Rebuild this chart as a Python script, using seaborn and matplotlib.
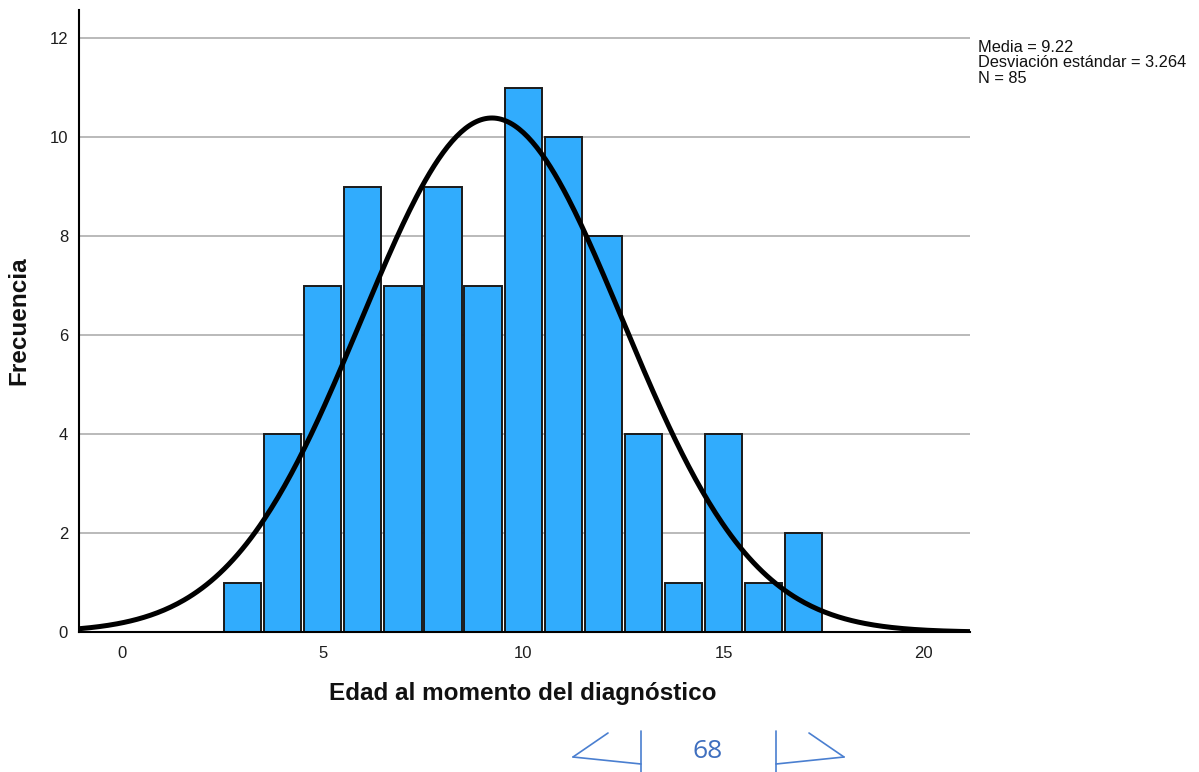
import matplotlib.pyplot as plt
from matplotlib.lines import Line2D
import seaborn as sns
import numpy as np
import pandas as pd

# data
edades = [3, 4, 5, 6, 7, 8, 9, 10, 11, 12, 13, 14, 15, 16, 17]
frecuencias = [1, 4, 7, 9, 7, 9, 7, 11, 10, 8, 4, 1, 4, 1, 2]
media = 9.22
desv = 3.264
n_total = 85

sns.set_theme(style="white")
plt.rcParams['font.family'] = ['Liberation Sans', 'DejaVu Sans']

df = pd.DataFrame({"edad": edades, "frec": frecuencias})

fig = plt.figure(figsize=(11.99, 7.72), dpi=100)
ax = fig.add_axes([0.066, 0.181, 0.743, 0.806])

xmin, xmax = -1.08, 21.15
ax.set_xlim(xmin, xmax)
ax.set_ylim(0, 12.57)

# grid lines behind bars
for yv in range(2, 13, 2):
    ax.axhline(yv, color='#b4b4b4', lw=1.3, zorder=0)

sns.histplot(data=df, x="edad", weights="frec", discrete=True, shrink=0.93,
             color='#31acfd', alpha=1, edgecolor='#1a1a1a', linewidth=1.4,
             ax=ax, zorder=2)

# normal curve scaled to counts (bin width 1)
xs = np.linspace(xmin, xmax, 400)
ys = n_total / (desv * np.sqrt(2 * np.pi)) * np.exp(-0.5 * ((xs - media) / desv) ** 2)
ax.plot(xs, ys, color='black', lw=3.6, zorder=3, solid_capstyle='butt')

ax.set_xticks([0, 5, 10, 15, 20])
ax.set_yticks([0, 2, 4, 6, 8, 10, 12])
ax.tick_params(axis='both', length=0, labelsize=12, colors='#1e1e1e')
ax.tick_params(axis='x', pad=10)
ax.tick_params(axis='y', pad=8)

for s in ['top', 'right']:
    ax.spines[s].set_visible(False)
ax.spines['left'].set_color('black')
ax.spines['bottom'].set_color('black')
ax.spines['left'].set_linewidth(1.5)
ax.spines['bottom'].set_linewidth(1.5)

ax.set_xlabel('')
ax.set_ylabel('')
fig.text(0.016, 0.585, 'Frecuencia', rotation=90, fontsize=17.5, fontweight='bold',
         ha='center', va='center', color='#111111')
fig.text(0.436, 0.102, 'Edad al momento del diagnóstico', fontsize=17.5,
         fontweight='bold', ha='center', va='center', color='#111111')

fig.text(0.816, 0.948, 'Media = 9.22\nDesviación estándar = 3.264\nN = 85',
         fontsize=11.8, ha='left', va='top', linespacing=1.02, color='#111111')

# page number decoration
W, H = 1199, 772
blue = '#4a7fd0'
segs = [[(641, 731), (641, 772)], [(573, 757), (641, 764)], [(573, 757), (608, 733)],
        [(776, 731), (776, 772)], [(776, 764), (844, 757)], [(844, 757), (809, 733)]]
for (x0, y0), (x1, y1) in segs:
    fig.add_artist(Line2D([x0 / W, x1 / W], [1 - y0 / H, 1 - y1 / H],
                          color=blue, lw=1.2, transform=fig.transFigure))
fig.text(708 / W, 1 - 752 / H, '68', fontsize=19, color='#3f6fbf',
         ha='center', va='center', family=['Open Sans', 'DejaVu Sans'])

fig.savefig('out.png', dpi=100)
